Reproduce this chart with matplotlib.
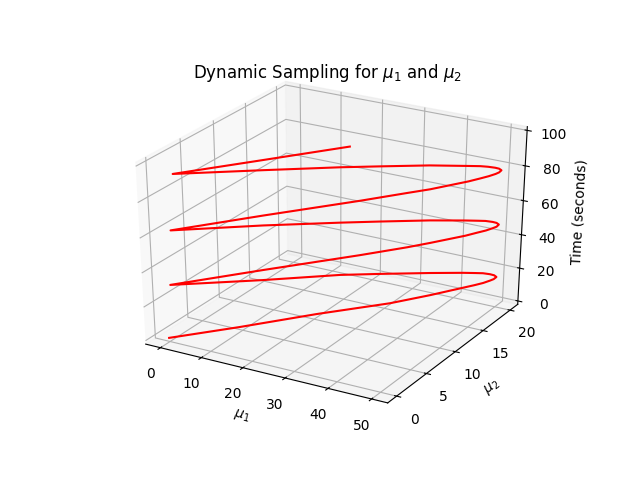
import matplotlib
matplotlib.use('Agg')
import matplotlib.pyplot as plt
from mpl_toolkits.mplot3d import Axes3D

# values, in drawing order
time_s = [0.0, 3.9, 8.1, 12.1, 14.3, 16.2, 16.8, 17.3, 17.7, 17.9, 18.0, 18.1, 18.2, 18.5, 18.8, 19.2, 20.4, 22.3, 23.7, 26.6,
          30.0, 35.1, 40.4, 43.0, 44.2, 46.2, 46.8, 47.3, 47.7, 47.9, 48.0, 48.1, 48.2, 48.5, 48.8, 49.2, 50.5, 52.3, 53.8, 56.6,
          60.0, 65.0, 70.3, 72.9, 74.1, 76.2, 76.8, 77.3, 77.7, 77.9, 78.0, 78.1, 78.2, 78.5, 78.8, 79.2, 80.6, 82.4, 83.8, 86.6,
          89.9, 95.1, 100.0]
mu1 = [-0.2, 11.3, 23.6, 35.7, 41.8, 46.7, 48.4, 49.6, 50.4, 50.8, 50.8, 50.0, 49.0, 47.6, 46.2, 44.1, 38.7, 30.6, 24.3, 13.1,
       -0.3, 14.4, 30.1, 37.6, 41.1, 46.4, 48.0, 49.2, 50.0, 50.4, 50.3, 49.5, 48.6, 47.2, 45.8, 43.7, 37.9, 30.1, 23.9, 12.5,
       -0.6, 13.9, 29.4, 36.7, 40.4, 46.0, 47.6, 48.7, 49.5, 49.8, 49.7, 48.9, 48.0, 46.6, 45.2, 43.2, 36.8, 29.1, 23.1, 11.9,
       -0.8, 13.5, 27.2]
mu2 = [0.0, 3.7, 8.0, 11.8, 14.3, 16.5, 17.3, 17.9, 18.5, 18.9, 19.4, 19.6, 19.6, 19.4, 19.0, 18.4, 16.6, 13.7, 11.4, 6.3,
       0.6, 5.5, 10.6, 13.2, 14.6, 16.8, 17.7, 18.3, 18.9, 19.3, 19.8, 20.0, 20.0, 19.8, 19.4, 18.8, 16.9, 14.0, 11.6, 7.0,
       1.2, 6.1, 11.1, 13.6, 14.9, 17.3, 18.2, 18.8, 19.4, 19.8, 20.3, 20.5, 20.5, 20.3, 20.0, 19.4, 17.4, 14.5, 12.2, 7.5,
       2.0, 6.5, 10.9]
mu2_ticks = [0, 5, 10, 15, 20]

fig = plt.figure(figsize=(6.4, 4.78), dpi=100)
ax = fig.add_subplot(111, projection='3d')

# reference comes from the old mplot3d: unit cube stretched over the whole axes box
ax.apply_aspect = lambda position=None: ax._set_position(ax.get_position(original=True), 'active')
ax.set_box_aspect((1, 1, 1), zoom=0.947)

ax.plot(mu1, mu2, time_s, color='red')

ax.set_xlim(-3.65, 53.65)
ax.set_ylim(-1.46, 21.46)
ax.set_zlim(-2.08, 102.08)
ax.set_yticks(mu2_ticks)

ax.set_title(r'Dynamic Sampling for $\mu_1$ and $\mu_2$', y=1.0)
ax.set_xlabel(r'$\mu_1$')
ax.set_ylabel(r'$\mu_2$')
ax.set_zlabel('Time (seconds)')

plt.savefig('out.png', dpi=100)
